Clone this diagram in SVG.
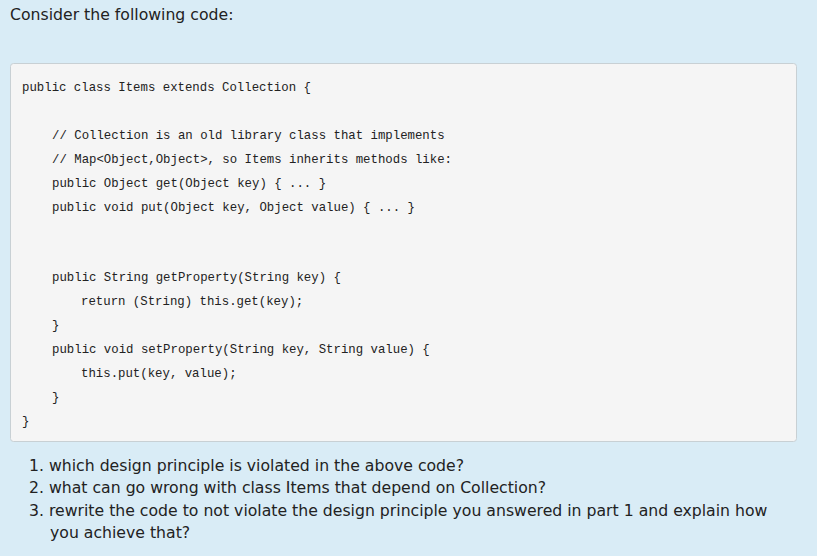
<svg xmlns="http://www.w3.org/2000/svg" width="817" height="556" viewBox="0 0 817 556">
<style>
.c{font-family:"Liberation Mono",monospace;font-size:12.35px;fill:#222;white-space:pre}
.t{font-family:"DejaVu Sans",Verdana,sans-serif;font-size:15.7px;fill:#222}
</style>
<rect width="817" height="556" fill="#d9ecf6"/>
<text class="t" x="10" y="20">Consider the following code:</text>
<rect x="10.5" y="63.5" width="786" height="378" rx="3" fill="#f5f5f5" stroke="#c8d0d4"/>
<text class="c" x="22" y="91">public class Items extends Collection {</text>
<text class="c" x="52" y="139">// Collection is an old library class that implements</text>
<text class="c" x="52" y="163">// Map&lt;Object,Object&gt;, so Items inherits methods like:</text>
<text class="c" x="52" y="187">public Object get(Object key) { ... }</text>
<text class="c" x="52" y="211">public void put(Object key, Object value) { ... }</text>
<text class="c" x="52" y="281">public String getProperty(String key) {</text>
<text class="c" x="81" y="305">return (String) this.get(key);</text>
<text class="c" x="52" y="329">}</text>
<text class="c" x="52" y="353">public void setProperty(String key, String value) {</text>
<text class="c" x="81" y="377">this.put(key, value);</text>
<text class="c" x="52" y="401">}</text>
<text class="c" x="22" y="425">}</text>
<text class="t" x="29" y="471">1. which design principle is violated in the above code?</text>
<text class="t" x="29" y="493">2. what can go wrong with class Items that depend on Collection?</text>
<text class="t" x="29" y="516">3. rewrite the code to not violate the design principle you answered in part 1 and explain how</text>
<text class="t" x="50" y="538">you achieve that?</text>
</svg>
